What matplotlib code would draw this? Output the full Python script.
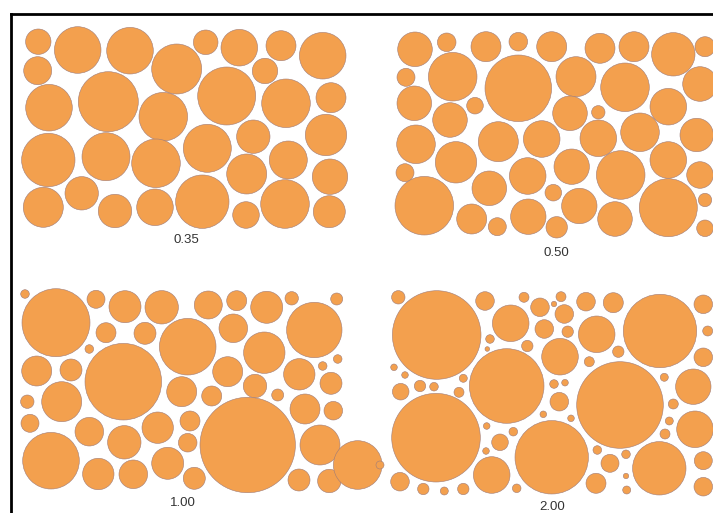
import matplotlib.pyplot as plt
from matplotlib.patches import Circle

# Paquetes de circulos para cuatro valores de dispersion
# cada circulo: (x, y, radio) en pixeles de la lamina
circulos_035 = [
    (38.3, 41.7, 12.7), (77.7, 50, 23.3), (130, 50.7, 23.3), (176.7, 69, 25),
    (205.7, 42.3, 12.3), (239.3, 47.7, 18.3), (281, 45.7, 15), (322.7, 55.7, 23.3),
    (37.7, 70.7, 14), (265, 71, 12.7),
    (49, 107.7, 23.3), (108.3, 101.7, 30), (163.3, 116.7, 24.3), (226.7, 96, 29),
    (286, 103.3, 24.3), (331, 97.7, 15),
    (48.3, 160, 26.7), (106, 156.7, 24), (156, 163.3, 24.3), (207.3, 148.3, 24),
    (253.3, 136.7, 16.7), (326, 135, 20.7), (246.7, 174, 20), (288.3, 160, 19),
    (330, 176.7, 17.7),
    (43.3, 207.3, 20), (81.7, 193.3, 16.7), (115, 211, 16.7), (155, 207.3, 18.3),
    (202.3, 201.7, 26.7), (246, 215, 13.3), (285, 204, 24.3), (329.3, 211.7, 16),
]

circulos_050 = [
    (415, 49.3, 17.3), (446.7, 42.3, 9.3), (486, 46.7, 15), (518.3, 41.7, 9.3),
    (551.7, 46.7, 15), (600, 48.3, 15), (634, 46.7, 15), (673.3, 54.3, 21.7),
    (705, 46.7, 10), (406, 77.3, 9), (452.7, 76.7, 24.3), (518.3, 88.3, 33.3),
    (576, 76.7, 20), (625, 87.3, 24.3), (700, 84, 17.3),
    (414.3, 103.3, 17.3), (475, 105.7, 8.3), (450, 120, 17.3), (570, 113.3, 17.3),
    (598.3, 112.3, 6.7), (668.3, 106.7, 18.3), (416, 144.3, 19.3), (498.3, 141.7, 20),
    (541.7, 139, 18.3), (598.3, 138.3, 18.3), (640, 132.3, 19.3), (696.7, 135, 16.7),
    (405, 172.7, 9), (456, 162.3, 20.7), (527.7, 176, 18.3), (571.7, 166.7, 17.7),
    (620.7, 175, 24.3), (668.3, 160, 18.3), (700, 175, 13.3), (424.3, 205.7, 29.3),
    (489.3, 188.3, 17.3), (553.3, 192.7, 8.3), (579.3, 206, 17.7), (668.3, 207.7, 29),
    (705, 200, 6.7),
    (471.7, 219, 15), (497.3, 226.7, 9), (528.3, 216.7, 17.7), (556.7, 227.3, 10.7),
    (615, 219, 17.3), (705, 228.3, 8.3),
]

circulos_100 = [
    (25, 294, 4.3), (56, 322.7, 34), (96, 299.3, 9), (125, 306.7, 16),
    (161.7, 307.3, 16.7), (208.3, 305, 14), (236.7, 300.7, 10), (266.7, 307.3, 16),
    (291.7, 298.3, 6.7), (336.7, 299, 6), (314.3, 330, 27.7), (106, 332.7, 10),
    (145, 333.3, 11), (187.7, 346.7, 28.3), (233.3, 328.3, 14.3), (264.3, 352.7, 20.7),
    (89.3, 349, 4.3),
    (36.7, 371, 15), (71, 370, 11), (123.3, 381.7, 38.3), (181.7, 391.7, 15),
    (227.7, 371.7, 15), (211.7, 396, 10), (255, 386, 11.7), (277.7, 395, 6),
    (299.3, 374.3, 15.7), (322.7, 366, 4.3), (337.7, 359, 4.3), (331, 383.3, 11),
    (61.7, 401.7, 20), (27.3, 401.7, 6.7),
    (30, 423.3, 9), (89.3, 431.7, 14.3), (157.7, 427.7, 15.7), (190, 421, 10),
    (124.3, 442.3, 16.7), (187.7, 442.7, 9.3), (247.7, 445, 47.7), (305, 409, 15),
    (333.3, 410.7, 9.3), (320, 445, 20), (51, 460.7, 28.3),
    (98.3, 474, 15.7), (133.3, 474.3, 14.3), (167.7, 463.3, 16), (194.3, 478.3, 11),
    (299, 480, 11), (329.3, 481, 11.7), (357.7, 465, 24.3),
]

circulos_200 = [
    (398.3, 297.3, 6.7), (436.7, 335, 44.3), (485, 301, 9.3), (510.7, 323.3, 18.3),
    (524, 297.3, 5), (540, 307.3, 9.3), (554, 304, 2.7), (561, 296.7, 5),
    (564.3, 314, 9.3), (586, 301.7, 9.3), (613.3, 302.7, 10), (660, 331, 36.7),
    (703.3, 304.3, 9.3), (544.3, 329, 9.3), (567.7, 331.7, 5.7), (596.7, 334.3, 18.3),
    (707.7, 331, 5), (490, 339, 4.3), (487.3, 349, 2.3), (527.3, 346, 5.7),
    (560, 356.7, 18.3), (618.3, 351.7, 5.7), (589.3, 361.7, 5), (703.3, 357.3, 9.3),
    (394, 367.3, 3.3), (405, 375, 3.3), (463.3, 378.3, 4), (506.7, 386, 37.3),
    (420, 386, 5.7), (434, 386.7, 4.3), (400.7, 391.7, 8.3), (459, 392.3, 5),
    (554, 384, 4.3), (565, 382.7, 3.3), (559.3, 401.7, 9.3), (620, 405, 43.3),
    (664.3, 377.3, 4), (693.3, 386.7, 17.7), (673.3, 404, 5), (543.3, 414.3, 3.3),
    (571, 418.3, 3.3), (669.3, 421, 4), (695, 429.3, 18.3),
    (436, 437.7, 44.3), (486.7, 426, 3.3), (513.3, 431.7, 4.3), (500, 442.3, 8.3),
    (486, 451, 3.3), (551.7, 457.3, 36.7), (665, 434, 5), (597.3, 450, 4.3),
    (610, 463.3, 9), (626, 454.3, 4.3), (659.3, 468.3, 26.7), (703.3, 460.7, 9),
    (491.7, 475, 18.3), (380, 465, 4),
    (400, 481.7, 9.3), (423.3, 489, 5.7), (444.3, 491, 4), (463.3, 489, 5.7),
    (516.7, 488.3, 4.3), (596, 483.3, 10), (626, 476, 2.7), (626.7, 490, 4),
    (703.3, 486.7, 9.3),
]

etiquetas = ["0.35", "0.50", "1.00", "2.00"]
pos_etiquetas = [(186.7, 240), (556.7, 253.3), (182.7, 503.3), (551.7, 507.3)]

color_relleno = "#f3a04e"
color_borde = "#a07c78"

fig = plt.figure(figsize=(7.13, 5.13), dpi=100)
ax = fig.add_axes([0, 0, 1, 1])
ax.set_xlim(0, 713)
ax.set_ylim(513, 0)
ax.axis("off")

# marco de la lamina (solo arriba e izquierda quedan visibles)
ax.plot([11, 713], [14, 14], color="black", lw=2)
ax.plot([11, 11], [14, 513], color="black", lw=2)

for grupo in [circulos_035, circulos_050, circulos_100, circulos_200]:
    for x, y, r in grupo:
        ax.add_patch(Circle((x, y), r, facecolor=color_relleno,
                            edgecolor=color_borde, linewidth=0.4))

for texto, (x, y) in zip(etiquetas, pos_etiquetas):
    ax.text(x, y, texto, ha="center", va="center", fontsize=9.5,
            color="#333333", family="Liberation Sans")

fig.savefig("out.png", dpi=100)
